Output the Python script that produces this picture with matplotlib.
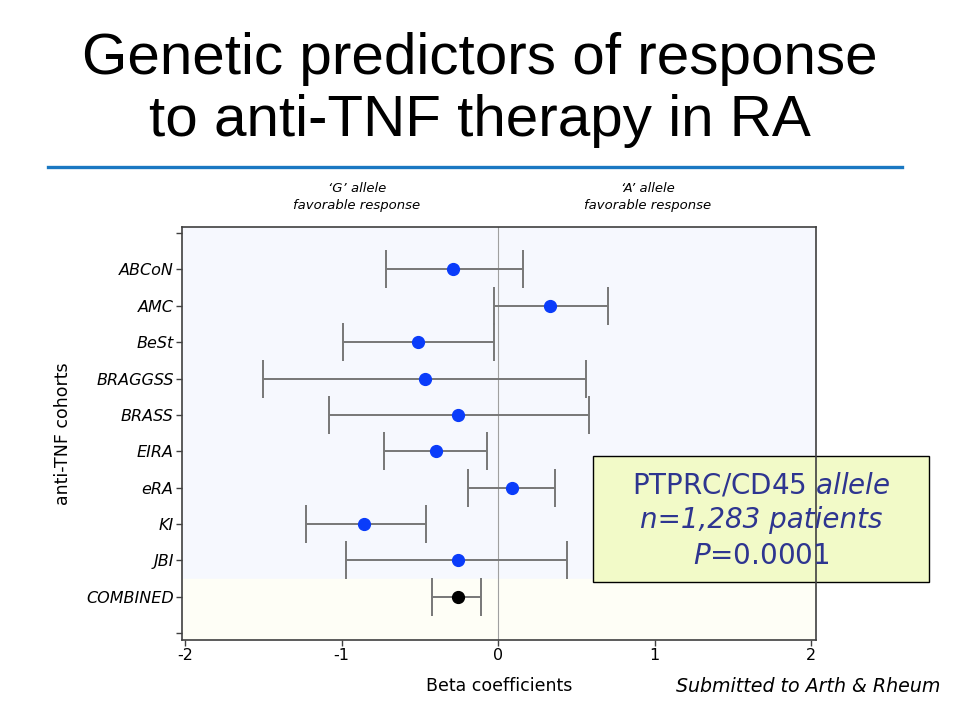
import matplotlib.pyplot as plt
from matplotlib.patches import Rectangle

cohorts = ['ABCoN', 'AMC', 'BeSt', 'BRAGGSS', 'BRASS', 'EIRA', 'eRA', 'KI', 'JBI', 'COMBINED']
beta = [-0.29, 0.33, -0.51, -0.47, -0.26, -0.40, 0.09, -0.86, -0.26, -0.26]
ci_low = [-0.72, -0.03, -0.99, -1.50, -1.08, -0.73, -0.19, -1.23, -0.97, -0.42]
ci_high = [0.16, 0.70, -0.03, 0.56, 0.58, -0.07, 0.36, -0.46, 0.44, -0.11]
x_ticks = [-2, -1, 0, 1, 2]

fig = plt.figure(figsize=(9.6, 7.2), dpi=100)
fig.patch.set_facecolor('white')

# title and rule
fig.text(0.5, 1 - 90 / 720, 'Genetic predictors of response\nto anti-TNF therapy in RA',
         ha='center', va='center', fontsize=42, family='Liberation Sans', linespacing=1.2)
fig.add_artist(plt.Line2D([0.05, 0.94], [0.768, 0.768], color='#1a78c2', lw=2.4))

ax = fig.add_axes([0.1896, 0.1111, 0.6604, 0.5736])
ax.set_facecolor('white')

ypos = list(range(1, len(cohorts) + 1))
ax.axhspan(-1, 9.5, color='#f6f8fe', zorder=0)
ax.axhspan(9.5, 12, color='#fefef6', zorder=0)
ax.axvline(0, color='#a0a0a0', lw=0.8, zorder=1)

for i, c in enumerate(cohorts):
    y = ypos[i]
    col = 'black' if c == 'COMBINED' else '#0a3cfa'
    ax.errorbar(beta[i], y, xerr=[[beta[i] - ci_low[i]], [ci_high[i] - beta[i]]],
                fmt='o', color=col, ecolor='#777777', elinewidth=1.4, capsize=13.5,
                capthick=1.4, markersize=8.5, zorder=3)

ax.set_xlim(-2.02, 2.03)
ax.set_ylim(11.19, -0.165)
ax.set_xticks(x_ticks)
ax.set_xticklabels([str(t) for t in x_ticks], fontsize=11.5)
ax.set_yticks(list(range(0, 12)))
ax.set_yticklabels([''] + cohorts + [''], fontsize=11.5, style='italic')
ax.tick_params(axis='both', direction='out', length=4, width=1, color='#404040', pad=2)
for s in ax.spines.values():
    s.set_color('#404040')
    s.set_linewidth(1.2)
    s.set_zorder(5)

ax.set_xlabel('Beta coefficients', fontsize=12.5, labelpad=10)
ax.set_ylabel('anti-TNF cohorts', fontsize=12.5, labelpad=10)

# header notes above the plot
fig.text(357 / 960, 1 - 197 / 720, '\u2018G\u2019 allele\nfavorable response',
         ha='center', va='center', fontsize=9.5, style='italic', linespacing=1.35)
fig.text(648 / 960, 1 - 197 / 720, '\u2018A\u2019 allele\nfavorable response',
         ha='center', va='center', fontsize=9.5, style='italic', linespacing=1.35)

# summary box
box = Rectangle((593 / 960, 1 - 582 / 720), 336 / 960, 126 / 720, transform=fig.transFigure,
                facecolor='#f2fac8', edgecolor='black', lw=1.0, zorder=4, clip_on=False)
ax.add_artist(box)
tc = '#2e3590'
ax.text(761 / 960, 1 - 485 / 720, r'PTPRC/CD45 $\it{allele}$', transform=fig.transFigure,
        ha='center', va='center', fontsize=20, color=tc, zorder=6, clip_on=False)
ax.text(761 / 960, 1 - 520 / 720, 'n=1,283 patients', transform=fig.transFigure,
        ha='center', va='center', fontsize=20, color=tc, style='italic', zorder=6, clip_on=False)
ax.text(761 / 960, 1 - 556 / 720, r'$\it{P}$=0.0001', transform=fig.transFigure,
        ha='center', va='center', fontsize=20, color=tc, zorder=6, clip_on=False)

fig.text(940 / 960, 1 - 687 / 720, 'Submitted to Arth & Rheum', ha='right', va='center',
         fontsize=13.7, style='italic')

fig.savefig('out.png', dpi=100)
